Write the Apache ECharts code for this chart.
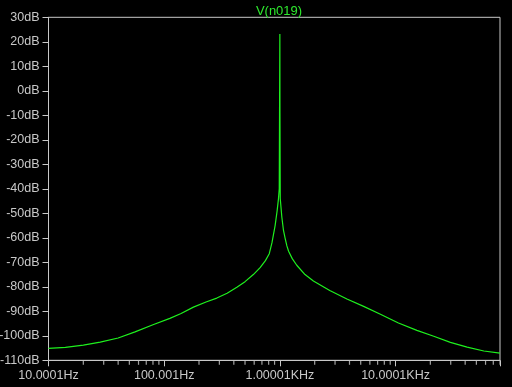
<!DOCTYPE html>
<html>
<head>
<meta charset="utf-8">
<script src="https://cdn.jsdelivr.net/npm/echarts@6/dist/echarts.min.js"></script>
<style>html,body{margin:0;padding:0;background:#000;}#c{width:512px;height:387px;}</style>
</head>
<body>
<div id="c"></div>
<script>
const titleText = 'V(n019)';
const freqHz = [10, 14, 20, 28, 40, 56, 80, 112, 140, 179, 230, 285, 350, 425, 500, 590, 675, 750, 810, 855, 910, 947, 973, 988, 1000, 1002, 1008, 1040, 1075, 1111, 1150, 1190, 1280, 1400, 1650, 1950, 2700, 3800, 5300, 7400, 10600, 15300, 21400, 29800, 41600, 58000, 80000];
const magDb = [-105.1, -104.7, -103.8, -102.6, -100.9, -98.4, -95.5, -92.9, -90.9, -88.3, -86.2, -84.6, -82.6, -80.2, -77.9, -75.0, -72.2, -69.3, -66.5, -62.0, -55.0, -49.0, -44.0, -40.0, 23.2, -9.0, -44.0, -51.5, -57.0, -60.2, -63.3, -65.5, -68.5, -71.2, -75.0, -77.6, -81.5, -85.0, -88.0, -91.2, -94.8, -97.8, -100.2, -102.7, -104.6, -106.2, -107.1];
const majorTicks = [10, 100, 1000, 10000];
const majorLabels = ['10.0001Hz', '100.001Hz', '1.00001KHz', '10.0001KHz'];
const minorTicks = [20, 30, 40, 50, 60, 70, 80, 90, 200, 300, 400, 500, 600, 700, 800, 900, 2000, 3000, 4000, 5000, 6000, 7000, 8000, 9000, 20000, 30000, 40000, 50000, 60000, 70000, 80000];
const yMin = -110, yMax = 30, yStep = 10;

const gray = '#c8c8c8';
const font = 'Liberation Sans, Arial, sans-serif';
const chart = echarts.init(document.getElementById('c'));
const data = freqHz.map((f, i) => [f, magDb[i]]);
const labelFor = v => { const i = majorTicks.findIndex(t => Math.abs(t - v) / t < 1e-6); return i >= 0 ? majorLabels[i] : ''; };
chart.setOption({
  backgroundColor: '#000',
  animation: false,
  title: {
    text: titleText, left: 274, top: 0, textAlign: 'center',
    textStyle: { color: '#2ee82e', fontSize: 13, fontWeight: 'normal', fontFamily: font }
  },
  grid: { left: 48.5, top: 17.3, width: 451.5, height: 343, show: true, borderColor: gray, borderWidth: 1, backgroundColor: '#000', containLabel: false, outerBoundsMode: 'none' },
  xAxis: {
    type: 'log', logBase: 10, min: 10, max: 80000,
    axisLine: { show: true, onZero: false, lineStyle: { color: gray } },
    axisTick: { show: true, length: 6, interval: 0, lineStyle: { color: gray, width: 1 } },
    axisLabel: { color: gray, fontSize: 12.5, fontFamily: font, margin: 9, interval: 0, formatter: labelFor, hideOverlap: false },
    splitLine: { show: false }
  },
  yAxis: {
    type: 'value', min: yMin, max: yMax, interval: yStep,
    axisLine: { show: true, onZero: false, lineStyle: { color: gray } },
    axisTick: { show: true, length: 6, lineStyle: { color: gray, width: 1 } },
    axisLabel: { color: gray, fontSize: 12.5, fontFamily: font, margin: 9, formatter: v => v + 'dB' },
    splitLine: { show: false }
  },
  series: [{
    type: 'line', data: data, showSymbol: false, symbol: 'none',
    lineStyle: { color: '#1ef01e', width: 1.2 }, silent: true
  }, {
    type: 'scatter', data: minorTicks.map(f => [f, yMin]), symbol: 'rect',
    symbolSize: [1.2, 4], symbolOffset: [0, 2.5], clip: false, silent: true,
    itemStyle: { color: gray }
  }]
});
</script>
</body>
</html>
